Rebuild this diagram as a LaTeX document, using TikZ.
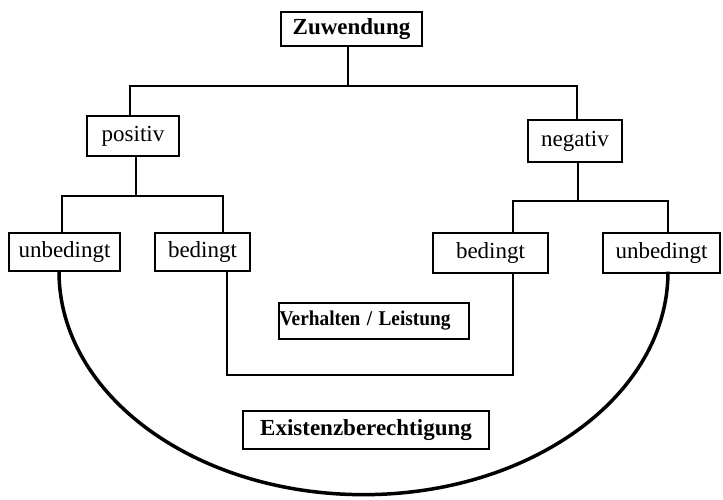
\documentclass[tikz,border=0pt]{standalone}
\usepackage{fontspec}
\setmainfont{Liberation Serif}
\begin{document}
\begin{tikzpicture}[x=1pt,y=-1pt,
  box/.style={draw, line width=1.3pt, inner sep=0pt, font=\fontsize{23}{26}\selectfont},
  hbox/.style={box, font=\fontsize{23}{26}\selectfont\bfseries},
  wire/.style={line width=2pt},
  bow/.style={line width=3.5pt}]
\useasboundingbox (0,0) rectangle (723,500);

% boxes
\node[hbox, minimum width=141pt, minimum height=34pt] (zu) at (351.5,29) {Zuwendung};
\node[box, minimum width=92pt, minimum height=40pt] (pos) at (133,136) {positiv};
\node[box, minimum width=94pt, minimum height=42pt] (neg) at (575,141) {negativ};
\node[box, minimum width=111pt, minimum height=38pt] (lu) at (64.5,252) {unbedingt};
\node[box, minimum width=95pt, minimum height=38pt] (lb) at (202.5,252) {bedingt};
\node[box, minimum width=115pt, minimum height=40pt] (rb) at (490.5,253) {bedingt};
\node[box, minimum width=117pt, minimum height=40pt] (ru) at (661.5,253) {unbedingt};
\node[box, font=\fontsize{21}{23}\selectfont\bfseries, text width=189pt, align=left,
      inner xsep=0.5pt, minimum height=36pt] (vl) at (374,321)
      {\scalebox{0.92}[1]{Verhalten / Leistung}};
\node[hbox, minimum width=246pt, minimum height=38pt] (ex) at (366,430) {Existenzberechtigung};

% junction points
\coordinate (top) at (348,86);
\coordinate (hl) at (130,86);
\coordinate (hr) at (577,86);
\coordinate (pj) at (136,196);
\coordinate (pl) at (62,196);
\coordinate (pr) at (223,196);
\coordinate (nj) at (578,201);
\coordinate (nl) at (513,201);
\coordinate (nr) at (668,201);
\coordinate (ul) at (227,375);
\coordinate (ur) at (513,375);
\coordinate (al) at (59,274);

% tree
\draw[wire] (zu.south -| top) -- (top);
\draw[wire] (hl |- pos.north) -- (hl) -- (hr) -- (hr |- neg.north);
\draw[wire] (pj |- pos.south) -- (pj);
\draw[wire] (pl |- lu.north) -- (pl) -- (pr) -- (pr |- lb.north);
\draw[wire] (nj |- neg.south) -- (nj);
\draw[wire] (nl |- rb.north) -- (nl) -- (nr) -- (nr |- ru.north);

% conditional bracket
\draw[wire] (ul |- lb.south) -- (ul) -- (ur) -- (ur |- rb.south);

% unconditional bowl
\draw[bow] (al |- lu.south) arc[start angle=180, end angle=360, x radius=304.5pt, y radius=223pt];
\end{tikzpicture}
\end{document}
